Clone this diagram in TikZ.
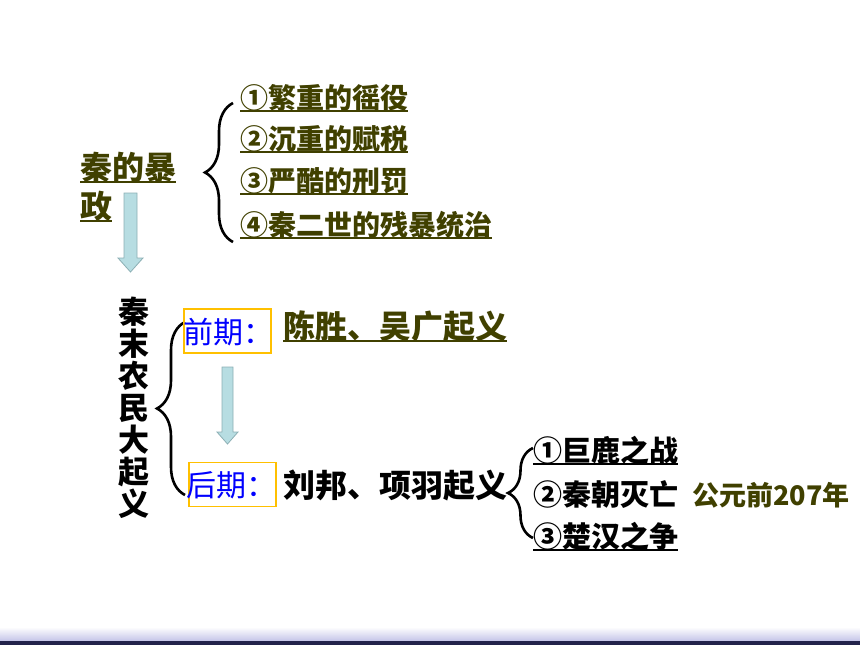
\documentclass[tikz,border=0pt]{standalone}
\usepackage{fontspec}
\newfontfamily\cjk{Noto Sans CJK SC}
\usetikzlibrary{decorations.pathreplacing}
\definecolor{olivetext}{RGB}{64,64,0}
\definecolor{arrowfill}{RGB}{183,221,226}
\definecolor{arrowline}{RGB}{140,175,180}
\definecolor{boxline}{RGB}{255,192,0}
\definecolor{bandtop}{RGB}{196,196,232}
\definecolor{bandline}{RGB}{35,35,75}
\tikzset{
  item/.style={anchor=base west, inner sep=0pt, font=\cjk\bfseries\fontsize{#1}{#1}\selectfont},
  uline/.style={append after command={([yshift=-3pt]\tikzlastnode.base west) edge[draw=#1, line width=1.4pt] ([yshift=-3pt]\tikzlastnode.base east)}},
  stage/.style={anchor=base west, inner sep=0pt, text=blue, font=\cjk\fontsize{30}{30}\selectfont},
  stagebox/.style={draw=boxline, line width=1.3pt, minimum width=87pt, minimum height=44pt, inner sep=0pt},
  fatarrow/.style={draw=arrowline, fill=arrowfill, line width=0.8pt, line join=miter},
  curly/.style={decorate, decoration={brace, amplitude=#1}, line width=2.6pt}
}
\begin{document}
\begin{tikzpicture}[x=1pt, y=-1pt]
    \useasboundingbox (0,0) rectangle (860,645);
    % bottom band
    \shade [top color=white, bottom color=bandtop] (0,627) rectangle (860,641);
    \fill [bandline] (0,641) rectangle (860,645);

    % braces
    \coordinate (b1lo) at (233,242);
    \coordinate (b1hi) at (233,103);
    \coordinate (b2lo) at (185,495);
    \coordinate (b2hi) at (185,322);
    \coordinate (b3lo) at (533,538);
    \coordinate (b3hi) at (533,448);
    \draw [curly=28pt] (b1lo) -- (b1hi);
    \draw [curly=28pt] (b2lo) -- (b2hi);
    \draw [curly=25pt] (b3lo) -- (b3hi);

    % Qin tyranny
    \node (baozheng1) [item=32, uline=olivetext, text=olivetext] at (80,179) {秦的暴};
    \node (baozheng2) [item=32, uline=olivetext, text=olivetext] at (80,218) {政};
    \node (yao)  [item=28, uline=olivetext, text=olivetext] at (240,108) {①繁重的徭役};
    \node (shui) [item=28, uline=olivetext, text=olivetext] at (240,149) {②沉重的赋税};
    \node (fa)   [item=28, uline=olivetext, text=olivetext] at (240,191) {③严酷的刑罚};
    \node (ershi)[item=28, uline=olivetext, text=olivetext] at (240,235) {④秦二世的残暴统治};

    % arrows
    \draw [fatarrow] (124,193) -- (137,193) -- (137,258) -- (143,258) -- (130.5,272) -- (118,258) -- (124,258) -- cycle;
    \draw [fatarrow] (222,367) -- (233,367) -- (233,432) -- (238,432) -- (227.5,444) -- (217,432) -- (222,432) -- cycle;

    % uprising
    \node (qiyi) [align=center, inner sep=0pt, font=\cjk\bfseries\fontsize{31}{32}\selectfont] at (134,408) {秦\\末\\农\\民\\大\\起\\义};
    \node (qianbox) [stagebox] at (227.5,331) {};
    \node (houbox)  [stagebox] at (232.5,484.5) {};
    \node (qian) [stage] at (183,343) {前期：};
    \node (hou)  [stage] at (186,496) {后期：};
    \node (chen) [item=32, uline=olivetext, text=olivetext] at (283,338) {陈胜、吴广起义};
    \node (liu)  [item=32] at (283,497) {刘邦、项羽起义};

    % Liu Bang and Xiang Yu
    \node (julu) [item=29, uline=black] at (533,461) {①巨鹿之战};
    \node (mie)  [item=29] at (533,505) {②秦朝灭亡};
    \node (chuhan) [item=29, uline=black] at (533,547) {③楚汉之争};
    \node (nian) [item=27, text=olivetext] at (692,505) {公元前207年};
\end{tikzpicture}
\end{document}
